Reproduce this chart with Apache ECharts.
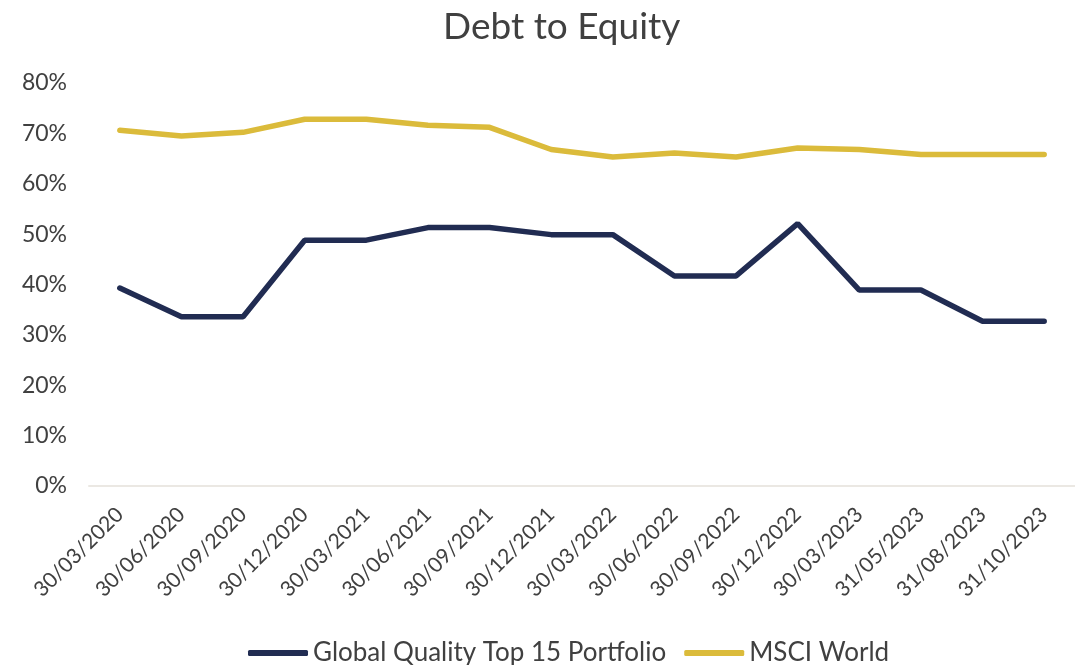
<!DOCTYPE html>
<html>
<head>
<meta charset="utf-8">
<script src="https://cdn.jsdelivr.net/npm/echarts@6/dist/echarts.min.js"></script>
<style>html,body{margin:0;padding:0;background:#fff}#c{width:1075px;height:665px}</style>
</head>
<body>
<div id="c"></div>
<script>
var categories = ['30/03/2020','30/06/2020','30/09/2020','30/12/2020','30/03/2021','30/06/2021','30/09/2021','30/12/2021','30/03/2022','30/06/2022','30/09/2022','30/12/2022','30/03/2023','31/05/2023','31/08/2023','31/10/2023'];
var portfolio = [39.3, 33.6, 33.6, 48.8, 48.8, 51.3, 51.3, 49.9, 49.9, 41.7, 41.7, 52.1, 38.9, 38.9, 32.7, 32.7];
var msciWorld = [70.6, 69.5, 70.2, 72.8, 72.8, 71.6, 71.2, 66.8, 65.3, 66.1, 65.3, 67.1, 66.8, 65.8, 65.8, 65.8];
var seriesNames = ['Global Quality Top 15 Portfolio', 'MSCI World'];
var FONT = 'Lato';
var chart = echarts.init(document.getElementById('c'));
chart.setOption({
  animation: false,
  backgroundColor: '#fff',
  title: {
    text: 'Debt to Equity', left: 438, top: 4,
    textStyle: {fontFamily: FONT, fontSize: 37, fontWeight: 'normal', color: '#404040'}
  },
  legend: {
    top: 635, left: 243, itemGap: 18, itemWidth: 60, itemHeight: 6, icon: 'roundRect',
    textStyle: {fontFamily: FONT, fontSize: 26, color: '#404040'},
    data: seriesNames
  },
  grid: {left: 89, right: -4, top: 83, bottom: 179, containLabel: false},
  xAxis: {
    type: 'category', data: categories, boundaryGap: true,
    axisLine: {lineStyle: {color: '#ebe8e3', width: 2}},
    axisTick: {show: false},
    axisLabel: {rotate: 45, fontFamily: FONT, fontSize: 21, color: '#404040', margin: 25, interval: 0}
  },
  yAxis: {
    type: 'value', min: 0, max: 80, interval: 10,
    splitLine: {show: false},
    axisLine: {show: false}, axisTick: {show: false},
    axisLabel: {formatter: '{value}%', fontFamily: FONT, fontSize: 23, color: '#404040', margin: 22}
  },
  series: [
    {name: seriesNames[0], type: 'line', data: portfolio, symbol: 'none', lineStyle: {color: '#212c52', width: 5.5, cap: 'round'}, itemStyle: {color: '#212c52'}},
    {name: seriesNames[1], type: 'line', data: msciWorld, symbol: 'none', lineStyle: {color: '#dbbb3b', width: 5.5, cap: 'round'}, itemStyle: {color: '#dbbb3b'}}
  ]
});
</script>
</body>
</html>
